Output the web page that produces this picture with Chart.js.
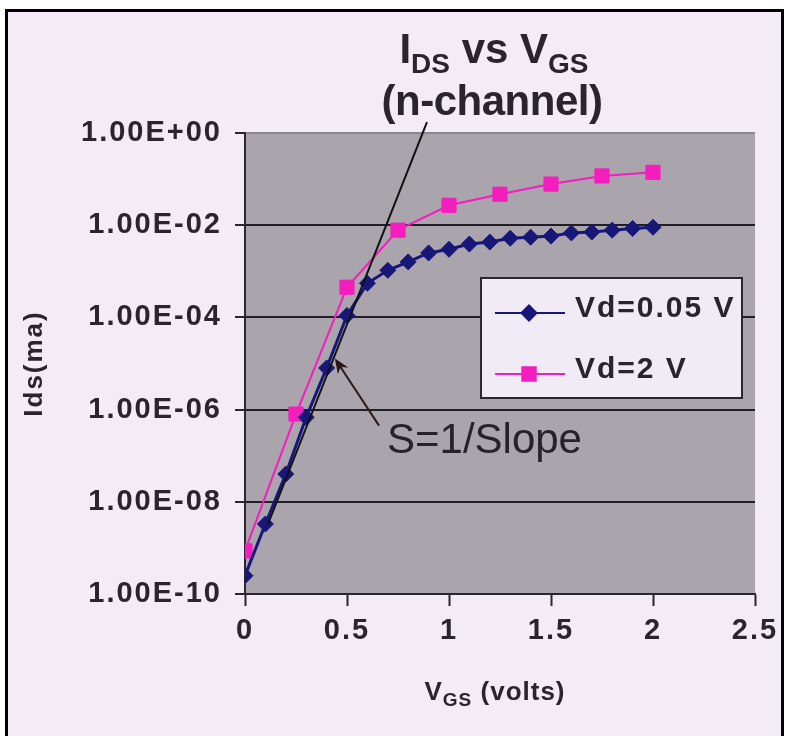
<!DOCTYPE html>
<html>
<head>
<meta charset="utf-8">
<script src="https://cdn.jsdelivr.net/npm/chart.js@4.4.1/dist/chart.umd.min.js"></script>
<style>
  html, body { margin:0; padding:0; background:#fff; width:788px; height:736px; overflow:hidden; }
  #frame { position:absolute; left:5px; top:9px; width:773px; height:740px; border:3px solid #000; background:#f3ebf6; }
  #ivChart { position:absolute; left:0; top:0; }
</style>
</head>
<body>
<div id="frame"></div>
<canvas id="ivChart" width="788" height="736"></canvas>
<script>
// DATA
const vgsLow = [0, 0.1, 0.2, 0.3, 0.4, 0.5, 0.6, 0.7, 0.8, 0.9, 1.0,
                1.1, 1.2, 1.3, 1.4, 1.5, 1.6, 1.7, 1.8, 1.9, 2.0];
const idsLow = [2.5e-10, 3.3e-9, 4e-8, 6.8e-7, 8e-6, 1.1e-4, 5.5e-4, 1.05e-3, 1.6e-3, 2.5e-3, 3e-3,
                3.9e-3, 4.3e-3, 5.2e-3, 5.5e-3, 5.8e-3, 6.8e-3, 7.1e-3, 7.8e-3, 8.5e-3, 9e-3];

const vgsHigh = [0, 0.25, 0.5, 0.75, 1.0, 1.25, 1.5, 1.75, 2.0];
const idsHigh = [8.6e-10, 8e-7, 4.5e-4, 7.8e-3, 2.7e-2, 4.7e-2, 7.8e-2, 0.117, 0.14];

const seriesNames = ['Vd=0.05 V', 'Vd=2 V'];

const xTickValues = [0, 0.5, 1, 1.5, 2, 2.5];
const xTickLabels = ['0', '0.5', '1', '1.5', '2', '2.5'];
const yTickValues = [1e-10, 1e-8, 1e-6, 1e-4, 1e-2, 1];
const yTickLabels = ['1.00E-10', '1.00E-08', '1.00E-06', '1.00E-04', '1.00E-02', '1.00E+00'];

// annotation anchors, in data units
const slopeLine = [[0.892, 1.73], [0.113, 3.3e-9]];
const arrowFrom = [0.657, 4.5e-7];
const arrowTo = [0.441, 1.28e-5];
const noteAt = [0.696, 1.16e-7];
const noteText = 'S=1/Slope';

const F = "'Liberation Sans', Arial, Helvetica, sans-serif";
const INK = '#29242d';

// gray plot area + tracking for axis text
const plotBg = {
  id: 'plotBg',
  beforeDraw(chart) {
    const {ctx, chartArea: a} = chart;
    ctx.save();
    ctx.fillStyle = '#aaa4ad';
    ctx.fillRect(a.left, a.top, a.right - a.left, a.bottom - a.top);
    ctx.restore();
    ctx.letterSpacing = '2px';
  }
};

function drawRuns(ctx, runs, cx, base) {
  let total = 0;
  runs.forEach(r => {
    ctx.font = r.style + ' ' + r.size + 'px ' + F;
    r.w = ctx.measureText(r.t).width;
    total += r.w;
  });
  let x = cx - total / 2;
  runs.forEach(r => {
    ctx.font = r.style + ' ' + r.size + 'px ' + F;
    ctx.fillText(r.t, x, base + r.dy);
    x += r.w;
  });
}

// legend box inside the plot
const boxLegend = {
  id: 'boxLegend',
  afterDatasetsDraw(chart) {
    const {ctx, chartArea: a} = chart;
    const x0 = a.left + 236, y0 = a.top + 145, w = 261, h = 120;
    ctx.save();
    ctx.fillStyle = '#f1ebf6';
    ctx.fillRect(x0, y0, w, h);
    ctx.lineWidth = 2;
    ctx.strokeStyle = '#2b2630';
    ctx.strokeRect(x0, y0, w, h);
    chart.data.datasets.forEach((ds, i) => {
      const y = y0 + 35 + i * 61;
      ctx.strokeStyle = ds.borderColor;
      ctx.lineWidth = 2;
      ctx.beginPath();
      ctx.moveTo(x0 + 14, y);
      ctx.lineTo(x0 + 84, y);
      ctx.stroke();
      ctx.fillStyle = ds.backgroundColor;
      Chart.helpers.drawPoint(ctx, {pointStyle: ds.pointStyle, radius: ds.pointRadius - 0.5, borderWidth: 1, rotation: 0}, x0 + 48, y);
      ctx.fillStyle = INK;
      ctx.letterSpacing = '2px';
      ctx.font = 'bold 30px ' + F;
      ctx.textBaseline = 'alphabetic';
      ctx.textAlign = 'left';
      ctx.fillText(ds.label, x0 + 94, y + 4);
    });
    ctx.restore();
  }
};

// slope line, arrow and note
const notes = {
  id: 'notes',
  afterDatasetsDraw(chart) {
    const {ctx, scales: {x, y}} = chart;
    const px = p => [x.getPixelForValue(p[0]), y.getPixelForValue(p[1])];
    ctx.save();
    ctx.letterSpacing = '0px';
    const a = px(slopeLine[0]), b = px(slopeLine[1]);
    ctx.strokeStyle = '#111';
    ctx.lineWidth = 2;
    ctx.beginPath();
    ctx.moveTo(a[0], a[1]);
    ctx.lineTo(b[0], b[1]);
    ctx.stroke();

    const f = px(arrowFrom), t = px(arrowTo);
    const ang = Math.atan2(t[1] - f[1], t[0] - f[0]);
    ctx.strokeStyle = '#2a1c1c';
    ctx.beginPath();
    ctx.moveTo(f[0], f[1]);
    ctx.lineTo(t[0] - 8 * Math.cos(ang), t[1] - 8 * Math.sin(ang));
    ctx.stroke();
    ctx.fillStyle = '#2a1414';
    ctx.beginPath();
    ctx.moveTo(t[0], t[1]);
    ctx.lineTo(t[0] - 16 * Math.cos(ang - 0.4), t[1] - 16 * Math.sin(ang - 0.4));
    ctx.lineTo(t[0] - 10 * Math.cos(ang), t[1] - 10 * Math.sin(ang));
    ctx.lineTo(t[0] - 16 * Math.cos(ang + 0.4), t[1] - 16 * Math.sin(ang + 0.4));
    ctx.closePath();
    ctx.fill();

    const n = px(noteAt);
    ctx.fillStyle = '#28232b';
    ctx.font = '42px ' + F;
    ctx.textAlign = 'left';
    ctx.textBaseline = 'alphabetic';
    ctx.fillText(noteText, n[0], n[1]);
    ctx.restore();
  }
};

// title and x-axis title (they need subscripts)
const titles = {
  id: 'titles',
  afterDraw(chart) {
    const {ctx, chartArea: a} = chart;
    const cx = (a.left + a.right) / 2;
    ctx.save();
    ctx.fillStyle = INK;
    ctx.textAlign = 'left';
    ctx.textBaseline = 'alphabetic';
    ctx.letterSpacing = '0px';
    drawRuns(ctx, [
      {t: 'I', size: 42, dy: 0, style: 'bold'},
      {t: 'DS', size: 28, dy: 10, style: 'bold'},
      {t: ' vs V', size: 42, dy: 0, style: 'bold'},
      {t: 'GS', size: 28, dy: 10, style: 'bold'}
    ], cx - 6, a.top - 70);
    ctx.letterSpacing = '-0.5px';
    drawRuns(ctx, [{t: '(n-channel)', size: 42, dy: 0, style: 'bold'}], cx - 8, a.top - 18);
    ctx.letterSpacing = '1px';
    drawRuns(ctx, [
      {t: 'V', size: 26, dy: 0, style: 'bold'},
      {t: 'GS', size: 19, dy: 6, style: 'bold'},
      {t: ' (volts)', size: 26, dy: 0, style: 'bold'}
    ], cx - 5, a.bottom + 106);
    ctx.restore();
  }
};

new Chart(document.getElementById('ivChart'), {
  type: 'line',
  data: {
    datasets: [{
      label: seriesNames[0],
      data: vgsLow.map((v, i) => ({x: v, y: idsLow[i]})),
      borderColor: '#17177a',
      backgroundColor: '#17177a',
      borderWidth: 3,
      pointStyle: 'rectRot',
      pointRadius: 8,
      pointBorderWidth: 1,
      tension: 0
    }, {
      label: seriesNames[1],
      data: vgsHigh.map((v, i) => ({x: v, y: idsHigh[i]})),
      borderColor: '#f41ebe',
      backgroundColor: '#f41ebe',
      borderWidth: 2,
      pointStyle: 'rect',
      pointRadius: 10,
      pointBorderWidth: 1,
      tension: 0
    }]
  },
  options: {
    responsive: false,
    animation: false,
    events: [],
    layout: {padding: {top: 133, right: 33, left: 0, bottom: 0}},
    plugins: {legend: {display: false}, tooltip: {enabled: false}},
    scales: {
      x: {
        type: 'linear', min: 0, max: 2.5,
        afterBuildTicks: s => { s.ticks = xTickValues.map(v => ({value: v})); },
        afterFit: s => { s.height = 142; s.paddingLeft = 0; s.paddingRight = 0; },
        ticks: {
          callback: (v, i) => xTickLabels[i],
          font: {family: F, size: 29, weight: 'bold'},
          color: INK, padding: 8, maxRotation: 0, autoSkip: false
        },
        grid: {drawOnChartArea: false, drawTicks: true, tickLength: 12, tickWidth: 2, tickColor: '#2a2530'},
        border: {color: '#2a2530', width: 2}
      },
      y: {
        type: 'logarithmic', min: 1e-10, max: 1,
        afterBuildTicks: s => { s.ticks = yTickValues.map(v => ({value: v})); },
        afterFit: s => { s.width = 245; s.paddingTop = 0; s.paddingBottom = 0; },
        ticks: {
          callback: (v, i) => yTickLabels[i],
          font: {family: F, size: 29, weight: 'bold'},
          color: INK, padding: 13, autoSkip: false
        },
        grid: {
          color: c => (c.tick && c.tick.value === 1) ? '#8d8691' : '#221e25',
          lineWidth: 2, tickLength: 10, tickWidth: 2, tickColor: '#2a2530'
        },
        border: {color: '#2a2530', width: 2},
        title: {
          display: true, text: 'Ids(ma)',
          font: {family: F, size: 26, weight: 'bold'},
          color: INK, padding: {top: 19, bottom: 0}
        }
      }
    }
  },
  plugins: [plotBg, boxLegend, notes, titles]
});
</script>
</body>
</html>
